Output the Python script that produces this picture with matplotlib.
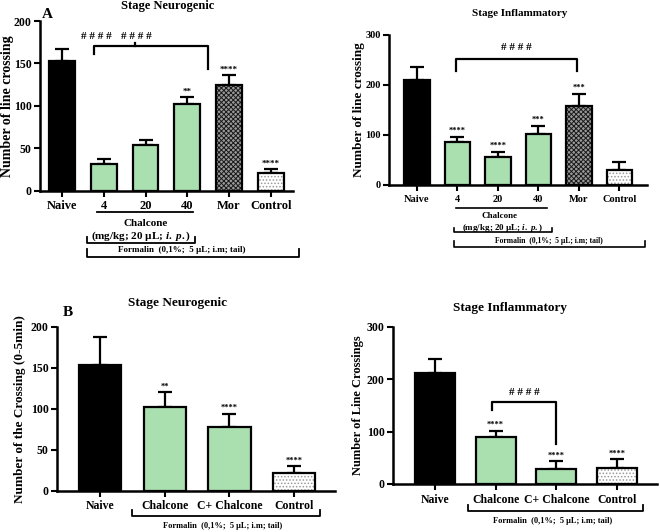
import numpy as np
import matplotlib
matplotlib.use('Agg')
import matplotlib.pyplot as plt
from matplotlib import transforms

plt.rcParams['font.family'] = ['Liberation Serif', 'DejaVu Serif']
plt.rcParams['font.weight'] = 'bold'
plt.rcParams['mathtext.fontset'] = 'custom'
plt.rcParams['mathtext.rm'] = 'Liberation Serif:bold'
plt.rcParams['mathtext.it'] = 'Liberation Serif:italic:bold'
plt.rcParams['hatch.linewidth'] = 0.7

# ── data ──
groups_a = ['Naive', '4', '20', '40', 'Mor', 'Control']
neuro_a_mean = [153, 31, 54, 102, 125, 21]
neuro_a_err = [14, 6, 6, 8, 11, 4]
neuro_a_sig = ['', '', '', '**', '****', '****']

infl_a_mean = [210, 87, 57, 103, 159, 30]
infl_a_err = [27, 10, 10, 16, 24, 17]
infl_a_sig = ['', '****', '****', '***', '***', '']

groups_b = ['Naive', 'Chalcone', 'C+ Chalcone', 'Control']
neuro_b_mean = [153, 102, 78, 22]
neuro_b_err = [34, 18, 16, 8]
neuro_b_sig = ['', '**', '****', '****']

infl_b_mean = [211, 90, 29, 30]
infl_b_err = [27, 12, 14, 17]
infl_b_sig = ['', '****', '****', '****']

GREEN = '#aadfb0'
styles_a = ['naive', 'green', 'green', 'green', 'mor', 'control']
styles_b = ['naive', 'green', 'green', 'control']

W, H = 660, 532


def fy(py):
    return 1 - py / H


def fx(px):
    return px / W


def draw_bars(ax, means, errs, styles, width, lw=1.6, cap=5):
    x = np.arange(len(means))
    ax.errorbar(x, means, yerr=[np.zeros(len(errs)), errs], fmt='none',
                ecolor='black', elinewidth=lw, capsize=cap, capthick=lw,
                zorder=2)
    for xi, m, s in zip(x, means, styles):
        if s == 'naive':
            ax.bar(xi, m, width, color='black', edgecolor='black',
                   linewidth=lw, zorder=3)
        elif s == 'green':
            ax.bar(xi, m, width, color=GREEN, edgecolor='black',
                   linewidth=lw, zorder=3)
        elif s == 'mor':
            ax.bar(xi, m, width, color='#9a9a9a', edgecolor='#1a1a1a',
                   hatch='xxxxxxx', linewidth=0, zorder=3)
            ax.bar(xi, m, width, fill=False, edgecolor='black',
                   linewidth=lw, zorder=4)
        else:
            ax.bar(xi, m, width, color='white', edgecolor='#999999',
                   hatch='.....', linewidth=0, zorder=3)
            ax.bar(xi, m, width, fill=False, edgecolor='black',
                   linewidth=lw, zorder=4)
    return x


def style_axes(ax, xlim, ylim, yticks, labels, tick_fs, ylabel, ylab_fs,
               ytick_fs=None):
    ax.set_xlim(*xlim)
    ax.set_ylim(*ylim)
    ax.set_yticks(yticks)
    ax.set_xticks(np.arange(len(labels)))
    ax.set_xticklabels(labels, fontsize=tick_fs, fontweight='bold')
    ax.tick_params(axis='y', labelsize=ytick_fs or tick_fs, width=1.5,
                   length=4, pad=2)
    ax.tick_params(axis='x', width=1.5, length=4, pad=3)
    for lbl in ax.get_yticklabels():
        lbl.set_fontweight('bold')
    for sp in ['top', 'right']:
        ax.spines[sp].set_visible(False)
    for sp in ['left', 'bottom']:
        ax.spines[sp].set_linewidth(1.8)
    ax.set_ylabel(ylabel, fontsize=ylab_fs, fontweight='bold')


def stars(ax, means, errs, sig, fs=6.5, off=2):
    for xi, (m, e, s) in enumerate(zip(means, errs, sig)):
        if s:
            ax.text(xi, m + e + off, s, ha='center', va='bottom',
                    fontsize=fs, fontweight='bold')


def below(ax):
    return transforms.blended_transform_factory(ax.transData, ax.figure.transFigure)


def bracket_below(ax, x0, x1, py, tick_px, lw=1.3):
    tr = below(ax)
    ax.plot([x0, x0, x1, x1], [fy(py - tick_px), fy(py), fy(py), fy(py - tick_px)],
            color='black', lw=lw, transform=tr, clip_on=False)


fig = plt.figure(figsize=(6.6, 5.32), dpi=100)

# ── A left ──
ax1 = fig.add_axes([fx(40), fy(190.7), fx(293 - 40), fy(21) - fy(190.7)])
draw_bars(ax1, neuro_a_mean, neuro_a_err, styles_a, 0.62)
style_axes(ax1, (-0.526, 5.53), (0, 200), [0, 50, 100, 150, 200], groups_a,
           9, 'Number of line crossing', 10, ytick_fs=8.5)
stars(ax1, neuro_a_mean, neuro_a_err, neuro_a_sig)
ax1.plot([0.77, 0.77, 3.5, 3.5], [161, 170, 170, 143], color='black', lw=1.6,
         clip_on=False)
ax1.plot([1.75, 1.75], [170, 174], color='black', lw=1.6, clip_on=False)
ax1.text(0.83, 182, '# # # #', ha='center', va='center', fontsize=8)
ax1.text(1.79, 182, '# # # #', ha='center', va='center', fontsize=8)
tr1 = below(ax1)
ax1.plot([0.84, 3.13], [fy(212), fy(212)], color='black', lw=1.3,
         transform=tr1, clip_on=False)
ax1.text(2.0, fy(223), 'Chalcone', transform=tr1, ha='center', va='center',
         fontsize=8)
ax1.text(1.9, fy(236), r'(mg/kg; 20 µL; $\mathit{i.\ p.}$)', transform=tr1,
         ha='center', va='center', fontsize=8)
bracket_below(ax1, 0.6, 3.18, 243, 6)
ax1.text(2.87, fy(249.5), 'Formalin  (0,1%;  5 µL; i.m; tail)', transform=tr1,
         ha='center', va='center', fontsize=6.5)
bracket_below(ax1, 0.6, 5.67, 257, 8)

# ── A right ──
ax2 = fig.add_axes([fx(389), fy(185), fx(647 - 389), fy(35) - fy(185)])
draw_bars(ax2, infl_a_mean, infl_a_err, styles_a, 0.63)
style_axes(ax2, (-0.69, 5.68), (0, 300), [0, 100, 200, 300], groups_a,
           7.5, 'Number of line crossing', 9.5)
stars(ax2, infl_a_mean, infl_a_err, infl_a_sig, fs=6, off=3)
ax2.plot([0.96, 0.96, 3.94, 3.94], [228, 253, 253, 228], color='black', lw=1.6,
         clip_on=False)
ax2.text(2.45, 274, '# # # #', ha='center', va='center', fontsize=8)
tr2 = below(ax2)
ax2.plot([0.96, 3.21], [fy(208), fy(208)], color='black', lw=1.2,
         transform=tr2, clip_on=False)
ax2.text(2.05, fy(216), 'Chalcone', transform=tr2, ha='center', va='center',
         fontsize=6.5)
ax2.text(2.12, fy(228), r'(mg/kg; 20 µL; $\mathit{i.\ p.}$)', transform=tr2,
         ha='center', va='center', fontsize=6.5)
bracket_below(ax2, 0.91, 3.33, 232, 4, lw=1.2)
ax2.text(3.26, fy(241), 'Formalin  (0,1%;  5 µL; i.m; tail)', transform=tr2,
         ha='center', va='center', fontsize=5.5)
bracket_below(ax2, 0.91, 5.63, 247, 6, lw=1.2)

# ── B left ──
ax3 = fig.add_axes([fx(57), fy(490.7), fx(335 - 57), fy(326.7) - fy(490.7)])
draw_bars(ax3, neuro_b_mean, neuro_b_err, styles_b, 0.65)
style_axes(ax3, (-0.665, 3.63), (0, 200), [0, 50, 100, 150, 200], groups_b,
           8.5, 'Number of the Crossing (0-5min)', 9.5)
stars(ax3, neuro_b_mean, neuro_b_err, neuro_b_sig, fs=6, off=2)
bracket_below(ax3, 0.49, 3.4, 516, 6)
ax3.text(1.9, fy(526), 'Formalin  (0,1%;  5 µL; i.m; tail)',
         transform=below(ax3), ha='center', va='center', fontsize=6)

# ── B right ──
ax4 = fig.add_axes([fx(393), fy(484), fx(657 - 393), fy(326.7) - fy(484)])
draw_bars(ax4, infl_b_mean, infl_b_err, styles_b, 0.66)
style_axes(ax4, (-0.69, 3.66), (0, 300), [0, 100, 200, 300], groups_b,
           8.5, 'Number of Line Crossings', 9)
stars(ax4, infl_b_mean, infl_b_err, infl_b_sig, fs=6, off=3)
ax4.plot([0.94, 0.94, 2.0, 2.0], [141, 157, 157, 76], color='black', lw=1.6,
         clip_on=False)
ax4.text(1.47, 174, '# # # #', ha='center', va='center', fontsize=8)
bracket_below(ax4, 0.54, 3.43, 510.7, 6)
ax4.text(1.94, fy(521), 'Formalin  (0,1%;  5 µL; i.m; tail)',
         transform=below(ax4), ha='center', va='center', fontsize=6)

# ylabel placement in figure pixels
for ax, px in [(ax1, 8), (ax2, 359), (ax3, 20), (ax4, 358)]:
    ax.yaxis.set_label_coords(fx(px), 0.5,
                              transform=transforms.blended_transform_factory(
                                  fig.transFigure, ax.transAxes))
    ax.yaxis.label.set_verticalalignment('center')

# titles and panel letters
fig.text(fx(168), fy(6), 'Stage Neurogenic', ha='center', va='center',
         fontsize=9, fontweight='bold')
fig.text(fx(520), fy(14), 'Stage Inflammatory', ha='center', va='center',
         fontsize=8, fontweight='bold')
fig.text(fx(177), fy(303), 'Stage Neurogenic', ha='center', va='center',
         fontsize=9.5, fontweight='bold')
fig.text(fx(510), fy(308), 'Stage Inflammatory', ha='center', va='center',
         fontsize=9.5, fontweight='bold')
fig.text(fx(47), fy(14), 'A', ha='center', va='center', fontsize=11,
         fontweight='bold')
fig.text(fx(68), fy(313), 'B', ha='center', va='center', fontsize=11,
         fontweight='bold')

fig.savefig('out.png', dpi=100)
